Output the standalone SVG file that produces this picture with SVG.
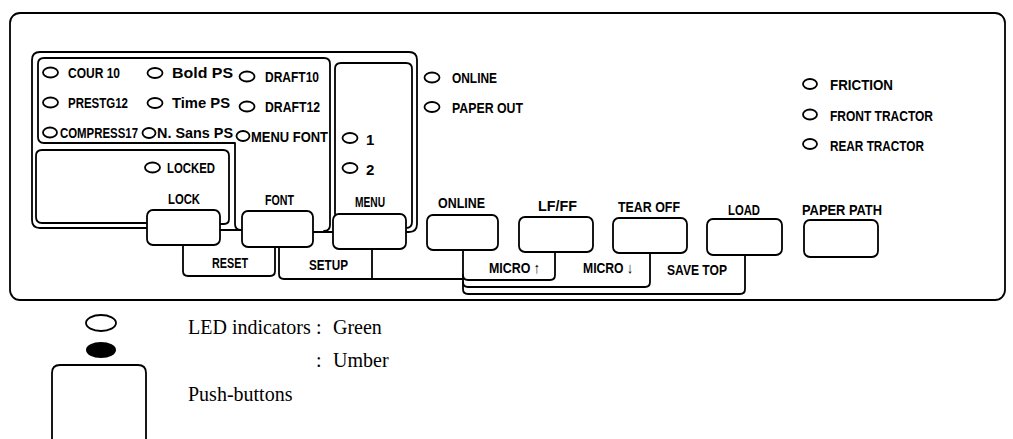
<svg xmlns="http://www.w3.org/2000/svg" width="1013" height="439" viewBox="0 0 1013 439">
<style>
.ln{fill:none;stroke:#000;stroke-width:1.8;stroke-linecap:round;stroke-linejoin:round}
.btn{fill:#fff;stroke:#000;stroke-width:1.8}
.led{fill:#fff;stroke:#000;stroke-width:1.8}
.t{font-family:"Liberation Sans","DejaVu Sans",sans-serif;font-weight:bold;font-size:15px;fill:#000}
.lg{font-family:"Liberation Serif","Times New Roman",serif;font-size:20px;fill:#000}
</style>
<rect x="0" y="0" width="1013" height="439" fill="#fff"/>
<g id="panel"><rect class="ln" x="10" y="13" width="995" height="287" rx="10"/></g>
<g id="connectors">
<path class="ln" d="M147,228 H40 Q32,228 32,220 V60 Q32,52 40,52 H409 Q417,52 417,60 V224 Q417,232 409,232 H406"/>
<path class="ln" d="M220,230 H242 M313,232 H333"/>
<path class="ln" d="M242,230 H241 Q235,230 235,224 V143 H44 Q38,143 38,137 V64 Q38,58 44,58 H324 Q330,58 330,64 V225 Q330,231 324,231"/>
<path class="ln" d="M147,223 H42 Q36,223 36,217 V156 Q36,150 42,150 H223 Q229,150 229,156 V219 Q229,224 224,224 H220"/>
<path class="ln" d="M335,214 V69 Q335,63 341,63 H406 Q412,63 412,69 V222 Q412,228 406,228"/>
<path class="ln" d="M183,245 V271 Q183,276 188,276 H270 Q275,276 275,271 V247"/>
<path class="ln" d="M279,247 V274 Q279,279 284,279 H463 M372,249 V279"/>
<path class="ln" d="M463,250 V275 Q463,280 468,280 H550 Q555,280 555,275 V252"/>
<path class="ln" d="M463,275 V282 Q463,287 468,287 H645 Q650,287 650,282 V253"/>
<path class="ln" d="M463,282 V289 Q463,294 468,294 H740 Q745,294 745,289 V255"/>
</g>
<g id="leds">
<g id="led-cour10"><ellipse class="led" cx="50.5" cy="72.5" rx="7.5" ry="5"/><text class="t" x="68" y="78" textLength="52" lengthAdjust="spacingAndGlyphs">COUR 10</text></g>
<g id="led-boldps"><ellipse class="led" cx="155" cy="73" rx="7.5" ry="5"/><text class="t" x="172" y="78" textLength="61" lengthAdjust="spacingAndGlyphs">Bold PS</text></g>
<g id="led-draft10"><ellipse class="led" cx="247" cy="76.5" rx="7.5" ry="5"/><text class="t" x="265" y="82" textLength="54" lengthAdjust="spacingAndGlyphs">DRAFT10</text></g>
<g id="led-prestg12"><ellipse class="led" cx="50.5" cy="102.5" rx="7.5" ry="5"/><text class="t" x="68" y="108" textLength="60" lengthAdjust="spacingAndGlyphs">PRESTG12</text></g>
<g id="led-timeps"><ellipse class="led" cx="155" cy="103" rx="7.5" ry="5"/><text class="t" x="172" y="108" textLength="58" lengthAdjust="spacingAndGlyphs">Time PS</text></g>
<g id="led-draft12"><ellipse class="led" cx="247" cy="106.5" rx="7.5" ry="5"/><text class="t" x="265" y="112" textLength="55" lengthAdjust="spacingAndGlyphs">DRAFT12</text></g>
<g id="led-compress17"><ellipse class="led" cx="50" cy="132.5" rx="7" ry="5"/><text class="t" x="60" y="138" textLength="78" lengthAdjust="spacingAndGlyphs">COMPRESS17</text></g>
<g id="led-nsansps"><ellipse class="led" cx="149" cy="133" rx="6.5" ry="5"/><text class="t" x="157" y="138" textLength="76" lengthAdjust="spacingAndGlyphs">N. Sans PS</text></g>
<g id="led-menufont"><ellipse class="led" cx="243" cy="136" rx="6.5" ry="5"/><text class="t" x="251" y="142" textLength="77" lengthAdjust="spacingAndGlyphs">MENU FONT</text></g>
<g id="led-locked"><ellipse class="led" cx="152.5" cy="167.5" rx="7.5" ry="5"/><text class="t" x="167" y="173" textLength="48" lengthAdjust="spacingAndGlyphs">LOCKED</text></g>
<g id="led-1"><ellipse class="led" cx="350" cy="138" rx="7.5" ry="5"/><text class="t" x="366" y="145">1</text></g>
<g id="led-2"><ellipse class="led" cx="350" cy="168" rx="7.5" ry="5"/><text class="t" x="366" y="175">2</text></g>
<g id="led-online"><ellipse class="led" cx="432" cy="77.5" rx="7.5" ry="5"/><text class="t" x="452" y="83" textLength="45" lengthAdjust="spacingAndGlyphs">ONLINE</text></g>
<g id="led-paperout"><ellipse class="led" cx="432" cy="107" rx="7.5" ry="5"/><text class="t" x="452" y="113" textLength="71" lengthAdjust="spacingAndGlyphs">PAPER OUT</text></g>
<g id="led-friction"><ellipse class="led" cx="810" cy="84" rx="7" ry="5"/><text class="t" x="830" y="90" textLength="63" lengthAdjust="spacingAndGlyphs">FRICTION</text></g>
<g id="led-fronttractor"><ellipse class="led" cx="810" cy="114.5" rx="7" ry="5"/><text class="t" x="830" y="121" textLength="103" lengthAdjust="spacingAndGlyphs">FRONT TRACTOR</text></g>
<g id="led-reartractor"><ellipse class="led" cx="810" cy="144" rx="7" ry="5"/><text class="t" x="830" y="151" textLength="94" lengthAdjust="spacingAndGlyphs">REAR TRACTOR</text></g>
</g>
<g id="buttons">
<g id="btn-lock"><rect class="btn" x="147" y="210" width="73" height="35" rx="6"/><text class="t" x="168" y="204" textLength="32" lengthAdjust="spacingAndGlyphs">LOCK</text></g>
<g id="btn-font"><rect class="btn" x="242" y="211" width="71" height="36" rx="6"/><text class="t" x="265" y="205" textLength="29" lengthAdjust="spacingAndGlyphs">FONT</text></g>
<g id="btn-menu"><rect class="btn" x="333" y="214" width="73" height="35" rx="6"/><text class="t" x="355" y="207" textLength="30" lengthAdjust="spacingAndGlyphs">MENU</text></g>
<g id="btn-online"><rect class="btn" x="427" y="215" width="71" height="35" rx="6"/><text class="t" x="438" y="208" textLength="47" lengthAdjust="spacingAndGlyphs">ONLINE</text></g>
<g id="btn-lfff"><rect class="btn" x="519" y="217" width="74" height="35" rx="6"/><text class="t" x="538" y="211" textLength="39" lengthAdjust="spacingAndGlyphs">LF/FF</text></g>
<g id="btn-tearoff"><rect class="btn" x="613" y="218" width="74" height="35" rx="6"/><text class="t" x="618" y="212" textLength="62" lengthAdjust="spacingAndGlyphs">TEAR OFF</text></g>
<g id="btn-load"><rect class="btn" x="707" y="219" width="75" height="36" rx="6"/><text class="t" x="728" y="215" textLength="32" lengthAdjust="spacingAndGlyphs">LOAD</text></g>
<g id="btn-paperpath"><rect class="btn" x="804" y="220" width="74" height="37" rx="6"/><text class="t" x="802" y="215" textLength="80" lengthAdjust="spacingAndGlyphs">PAPER PATH</text></g>
</g>
<g id="combo-labels">
<text class="t" x="212" y="268" textLength="36" lengthAdjust="spacingAndGlyphs">RESET</text>
<text class="t" x="309" y="270" textLength="39" lengthAdjust="spacingAndGlyphs">SETUP</text>
<text class="t" x="489" y="273" textLength="51" lengthAdjust="spacingAndGlyphs">MICRO ↑</text>
<text class="t" x="583" y="273" textLength="50" lengthAdjust="spacingAndGlyphs">MICRO ↓</text>
<text class="t" x="667" y="275" textLength="60" lengthAdjust="spacingAndGlyphs">SAVE TOP</text>
</g>
<g id="legend">
<ellipse class="led" cx="101" cy="323" rx="15" ry="8"/>
<ellipse cx="101" cy="350" rx="15" ry="8" fill="#000"/>
<path class="ln" d="M52,440 V373 Q52,365 60,365 H138 Q146,365 146,373 V440"/>
<text class="lg" x="188" y="334">LED indicators</text>
<text class="lg" x="316" y="334">:</text>
<text class="lg" x="333" y="334">Green</text>
<text class="lg" x="316" y="367">:</text>
<text class="lg" x="333" y="367">Umber</text>
<text class="lg" x="188" y="401">Push-buttons</text>
</g>
</svg>
